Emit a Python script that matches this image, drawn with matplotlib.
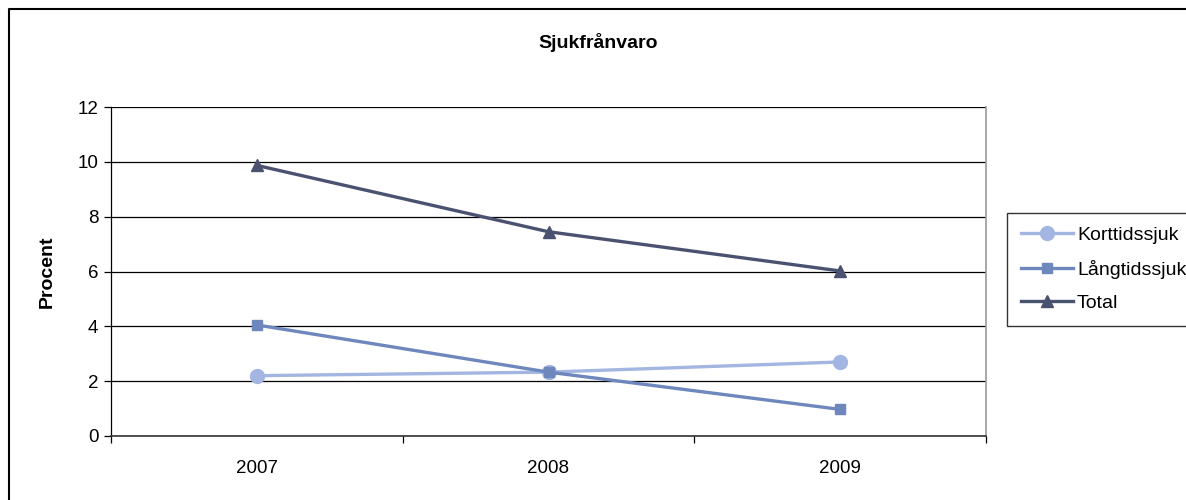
import matplotlib
matplotlib.use("Agg")
import matplotlib.pyplot as plt
from matplotlib.lines import Line2D

plt.rcParams['font.family'] = ['Liberation Sans', 'DejaVu Sans']

years = ['2007', '2008', '2009']
korttid = [2.2, 2.33, 2.7]
langtid = [4.05, 2.33, 0.97]
total = [9.87, 7.45, 6.02]

fig = plt.figure(figsize=(11.86, 5.0), dpi=100)
ax = fig.add_axes([111 / 1186, 64 / 500, 875 / 1186, 329 / 500])

x = list(range(len(years)))
ax.plot(x, korttid, color='#A3B6E2', lw=2.4, marker='o', ms=10, label='Korttidssjuk', zorder=3)
ax.plot(x, langtid, color='#6E87BD', lw=2.4, marker='s', ms=7, label='Långtidssjuk', zorder=4)
ax.plot(x, total, color='#4B5270', lw=2.4, marker='^', ms=8, label='Total', zorder=5)

ax.set_xlim(-0.5, 2.5)
ax.set_ylim(0, 12)
ax.set_yticks(range(0, 13, 2))
ax.yaxis.grid(True, color='#000000', lw=0.9)
ax.set_axisbelow(True)

ax.set_xticks(x)
ax.set_xticklabels(years)
ax.set_xticks([-0.5, 0.5, 1.5, 2.5], minor=True)
ax.tick_params(axis='x', which='major', length=0, pad=17, labelsize=13.5)
ax.tick_params(axis='x', which='minor', length=5, width=0.9, direction='out')
ax.tick_params(axis='y', length=5, width=0.9, labelsize=13.5, pad=4)

ax.spines['top'].set_visible(False)
ax.spines['right'].set_color('#999999')
ax.spines['right'].set_linewidth(1.2)
ax.spines['left'].set_linewidth(0.9)
ax.spines['bottom'].set_linewidth(1.2)
ax.spines['bottom'].set_color('#333333')

ax.set_ylabel('Procent', fontsize=14, fontweight='bold', labelpad=16)
fig.text(598 / 1186, 1 - 42 / 500, 'Sjukfrånvaro', ha='center', va='center',
         fontsize=14, fontweight='bold')

leg = fig.legend(loc='upper left', bbox_to_anchor=(1007 / 1186, 1 - 213 / 500),
                 borderaxespad=0, fontsize=14, frameon=True, fancybox=False,
                 borderpad=0.7, handlelength=2.7, handletextpad=0.2,
                 labelspacing=0.8)
leg.get_frame().set_edgecolor('#000000')
leg.get_frame().set_linewidth(1.0)

# outer chart border
fig.add_artist(Line2D([9 / 1186, 9 / 1186, 1.0], [0.0, 1 - 9 / 500, 1 - 9 / 500],
                      transform=fig.transFigure, color='#000000', lw=1.5))

fig.savefig('out.png', dpi=100)
